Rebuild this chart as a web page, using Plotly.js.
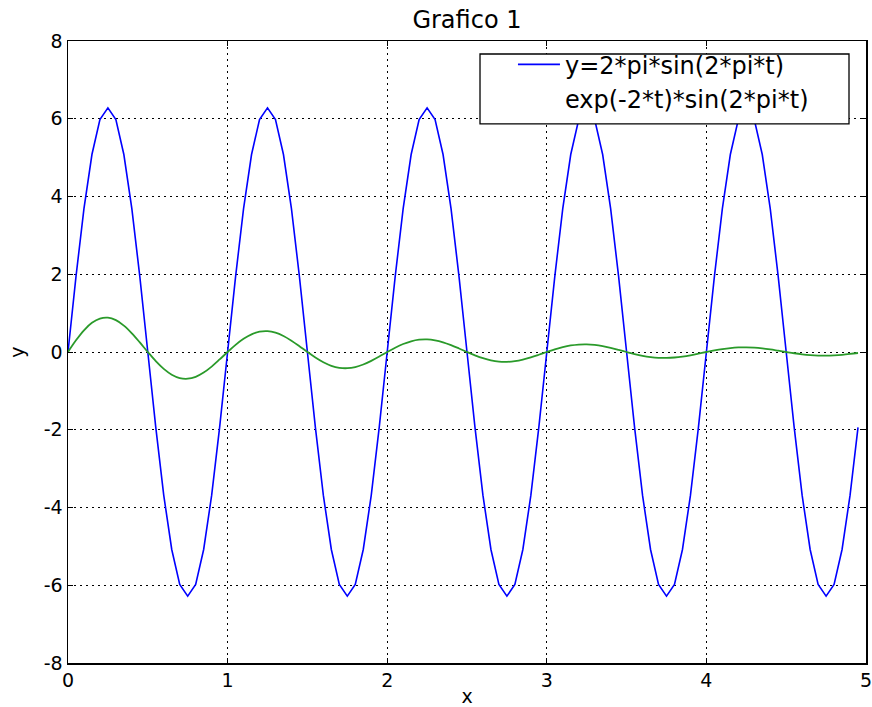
<!DOCTYPE html>
<html>
<head>
<meta charset="utf-8">
<script src="https://cdn.plot.ly/plotly-3.0.1.min.js"></script>
<style>html,body{margin:0;padding:0;background:#fff;}#chart{width:872px;height:707px;}</style>
</head>
<body>
<div id="chart"></div>
<script>
const tValues = [0,0.05,0.1,0.15,0.2,0.25,0.3,0.35,0.4,0.45,0.5,0.55,0.6,0.65,0.7,0.75,0.8,0.85,0.9,0.95,
1,1.05,1.1,1.15,1.2,1.25,1.3,1.35,1.4,1.45,1.5,1.55,1.6,1.65,1.7,1.75,1.8,1.85,1.9,1.95,
2,2.05,2.1,2.15,2.2,2.25,2.3,2.35,2.4,2.45,2.5,2.55,2.6,2.65,2.7,2.75,2.8,2.85,2.9,2.95,
3,3.05,3.1,3.15,3.2,3.25,3.3,3.35,3.4,3.45,3.5,3.55,3.6,3.65,3.7,3.75,3.8,3.85,3.9,3.95,
4,4.05,4.1,4.15,4.2,4.25,4.3,4.35,4.4,4.45,4.5,4.55,4.6,4.65,4.7,4.75,4.8,4.85,4.9,4.95];

const blueValues = [0,1.94,3.69,5.08,5.98,6.28,5.98,5.08,3.69,1.94,0,-1.94,-3.69,-5.08,-5.98,-6.28,-5.98,-5.08,-3.69,-1.94,
0,1.94,3.69,5.08,5.98,6.28,5.98,5.08,3.69,1.94,0,-1.94,-3.69,-5.08,-5.98,-6.28,-5.98,-5.08,-3.69,-1.94,
0,1.94,3.69,5.08,5.98,6.28,5.98,5.08,3.69,1.94,0,-1.94,-3.69,-5.08,-5.98,-6.28,-5.98,-5.08,-3.69,-1.94,
0,1.94,3.69,5.08,5.98,6.28,5.98,5.08,3.69,1.94,0,-1.94,-3.69,-5.08,-5.98,-6.28,-5.98,-5.08,-3.69,-1.94,
0,1.94,3.69,5.08,5.98,6.28,5.98,5.08,3.69,1.94,0,-1.94,-3.69,-5.08,-5.98,-6.28,-5.98,-5.08,-3.69,-1.94];

const greenValues = [0,0.301,0.559,0.751,0.861,0.883,0.819,0.679,0.481,0.247,0,-0.235,-0.435,-0.585,-0.670,-0.687,-0.638,-0.529,-0.375,-0.192,
0,0.183,0.339,0.455,0.522,0.535,0.497,0.412,0.292,0.150,0,-0.142,-0.264,-0.355,-0.407,-0.417,-0.387,-0.321,-0.227,-0.117,
0,0.111,0.206,0.276,0.317,0.325,0.301,0.250,0.177,0.091,0,-0.086,-0.160,-0.215,-0.247,-0.253,-0.235,-0.195,-0.138,-0.071,
0,0.067,0.125,0.168,0.192,0.197,0.183,0.152,0.107,0.055,0,-0.052,-0.097,-0.130,-0.150,-0.153,-0.142,-0.118,-0.084,-0.043,
0,0.041,0.076,0.102,0.117,0.119,0.111,0.092,0.065,0.033,0,-0.032,-0.059,-0.079,-0.091,-0.093,-0.086,-0.072,-0.051,-0.026];

const seriesNames = ["y=2*pi*sin(2*pi*t)", "exp(-2*t)*sin(2*pi*t)"];
const xTicks = [0,1,2,3,4,5];
const yTicks = [-8,-6,-4,-2,0,2,4,6,8];

const FAM = "DejaVu Sans, sans-serif";
const tickFont = {family: FAM, size: 19, color: "#000"};

const traces = [
  {x: tValues, y: blueValues, mode: "lines", name: seriesNames[0], line: {color: "#0000ff", width: 1.6}, showlegend: true},
  {x: tValues, y: greenValues, mode: "lines", name: "green", line: {color: "#2a9a2a", width: 1.8, shape: "spline"}, showlegend: false},
  {x: [null], y: [null], mode: "lines", name: seriesNames[1], line: {color: "rgba(0,0,0,0)", width: 1.6}, showlegend: true}
];

const axisCommon = {
  showline: true, linecolor: "#000", linewidth: 1.5, mirror: "ticks",
  ticks: "inside", ticklen: 5, tickcolor: "#000",
  showgrid: true, gridcolor: "#000", griddash: "2px,4px", gridwidth: 1,
  zeroline: false, tickfont: tickFont, ticklabeloverflow: "allow"
};

const layout = {
  width: 872, height: 707,
  margin: {l: 68, r: 6, t: 41, b: 44},
  paper_bgcolor: "#fff", plot_bgcolor: "#fff",
  font: tickFont,
  title: {text: "Grafico 1", font: {family: FAM, size: 24, color: "#000"}, x: 0.5355, xanchor: "center", y: 0.972, yanchor: "middle"},
  xaxis: Object.assign({}, axisCommon, {range: [0, 5], tickvals: xTicks, ticktext: xTicks.map(String),
    title: {text: "x", font: {family: FAM, size: 19, color: "#000"}, standoff: 4}}),
  yaxis: Object.assign({}, axisCommon, {range: [-8, 8], tickvals: yTicks, ticktext: yTicks.map(String),
    title: {text: "y", font: {family: FAM, size: 19, color: "#000"}, standoff: 14}}),
  shapes: [
    {type: "rect", xref: "paper", yref: "paper", x0: 0.5163, x1: 0.9787, y0: 0.8666, y1: 0.9791,
     layer: "above", fillcolor: "#fff", line: {color: "#000", width: 1.3}}
  ],
  legend: {x: 0.5576, xanchor: "left", y: 0.998, yanchor: "top", bgcolor: "rgba(0,0,0,0)", borderwidth: 0,
    font: {family: FAM, size: 24, color: "#000"}, itemwidth: 42, tracegroupgap: 0}
};

Plotly.newPlot("chart", traces, layout, {displayModeBar: false, staticPlot: true});
</script>
</body>
</html>
